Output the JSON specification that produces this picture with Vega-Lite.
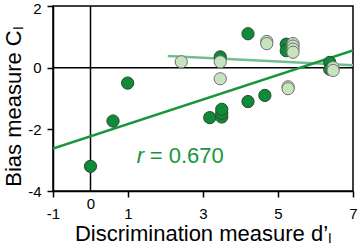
{
  "$schema": "https://vega.github.io/schema/vega-lite/v6.json",
  "width": 300,
  "height": 185,
  "autosize": {"type": "none"},
  "padding": {"left": 53, "top": 6, "right": 5, "bottom": 56},
  "config": {
    "font": "Liberation Sans",
    "view": {"stroke": "black", "strokeWidth": 1.5}
  },
  "encoding": {
    "x": {
      "field": "x", "type": "quantitative",
      "scale": {"domain": [-1, 7], "nice": false, "zero": false},
      "axis": {
        "values": [-1, 0, 1, 3, 5, 7],
        "grid": false,
        "domainColor": "black", "domainWidth": 1.5,
        "tickColor": "black", "tickWidth": 1.5,
        "tickSize": {"condition": {"test": "datum.value == 0", "value": 0}, "value": 6},
        "labelExpr": "datum.value + ''",
        "labelColor": "black", "labelFontSize": 15, "labelFlush": false,
        "labelPadding": {"condition": {"test": "datum.value == 0", "value": 5}, "value": 9},
        "title": "Discrimination measure d’ₗ",
        "titleFontSize": 22, "titleFontWeight": "normal", "titleColor": "black",
        "titleBaseline": "alphabetic", "titleY": 49
      }
    },
    "y": {
      "field": "y", "type": "quantitative",
      "scale": {"domain": [-4, 2], "nice": false, "zero": false},
      "axis": {
        "values": [-4, -2, 0, 2],
        "grid": false,
        "domainColor": "black", "domainWidth": 1.5,
        "tickColor": "black", "tickWidth": 1.5, "tickSize": 6,
        "labelExpr": "datum.value + ''",
        "labelColor": "black", "labelFontSize": 15, "labelFlush": false,
        "labelPadding": 6,
        "labelOffset": {"condition": {"test": "datum.value == 2", "value": 2}, "value": 0},
        "title": "Bias measure Cₗ",
        "titleFontSize": 22, "titleFontWeight": "normal", "titleColor": "black",
        "titleBaseline": "alphabetic", "titleX": -33, "titleY": 100, "titleAlign": "center", "titleAngle": -90
      }
    }
  },
  "layer": [
    {
      "data": {"values": [
        {"s": "h0", "x": -1, "y": 0}, {"s": "h0", "x": 7, "y": 0},
        {"s": "v0", "x": 0, "y": -4}, {"s": "v0", "x": 0, "y": 2}
      ]},
      "mark": {"type": "line", "color": "black", "strokeWidth": 1.5},
      "encoding": {"detail": {"field": "s"}}
    },
    {
      "data": {"values": [
        {"s": "B", "x": 2.06, "y": 0.38}, {"s": "B", "x": 7, "y": 0.08}
      ]},
      "mark": {"type": "line", "color": "#6fbf8c", "strokeWidth": 2.5, "clip": true},
      "encoding": {"detail": {"field": "s"}}
    },
    {
      "data": {"values": [
        {"s": "A", "x": -1, "y": -2.62}, {"s": "A", "x": 7, "y": 0.56}
      ]},
      "mark": {"type": "line", "color": "#16963c", "strokeWidth": 2.5, "clip": true},
      "encoding": {"detail": {"field": "s"}}
    },
    {
      "data": {"values": [
        {"group": "A", "x": 0, "y": -3.2},
        {"group": "A", "x": 0.6, "y": -1.73},
        {"group": "A", "x": 0.99, "y": -0.5},
        {"group": "A", "x": 4.2, "y": 1.1},
        {"group": "A", "x": 3.46, "y": 0.35},
        {"group": "A", "x": 3.18, "y": -1.62},
        {"group": "A", "x": 3.5, "y": -1.6},
        {"group": "A", "x": 3.5, "y": -1.48},
        {"group": "A", "x": 3.5, "y": -1.35},
        {"group": "A", "x": 4.2, "y": -1.1},
        {"group": "A", "x": 4.65, "y": -0.9},
        {"group": "A", "x": 5.22, "y": 0.76},
        {"group": "A", "x": 5.22, "y": 0.55},
        {"group": "A", "x": 6.38, "y": 0.17},
        {"group": "A", "x": 6.38, "y": -0.05},
        {"group": "B", "x": 2.42, "y": 0.19},
        {"group": "B", "x": 3.46, "y": 0.19},
        {"group": "B", "x": 3.46, "y": -0.36},
        {"group": "B", "x": 4.7, "y": 0.85},
        {"group": "B", "x": 4.7, "y": 0.78},
        {"group": "B", "x": 5.4, "y": 0.78},
        {"group": "B", "x": 5.4, "y": 0.7},
        {"group": "B", "x": 5.4, "y": 0.6},
        {"group": "B", "x": 5.4, "y": 0.5},
        {"group": "B", "x": 5.27, "y": -0.62},
        {"group": "B", "x": 5.27, "y": -0.68},
        {"group": "B", "x": 6.47, "y": 0.0},
        {"group": "B", "x": 6.47, "y": -0.09}
      ]},
      "mark": {"type": "circle", "size": 150, "opacity": 1, "strokeWidth": 1},
      "encoding": {
        "color": {"field": "group", "type": "nominal", "legend": null,
          "scale": {"domain": ["A", "B"], "range": ["#0f8a38", "#c8e3bf"]}},
        "stroke": {"field": "group", "type": "nominal", "legend": null,
          "scale": {"domain": ["A", "B"], "range": ["#2a4a30", "#707070"]}}
      }
    },
    {
      "data": {"values": [{"x": 1.23, "y": -3.08, "t": "r"}]},
      "mark": {"type": "text", "align": "left", "baseline": "alphabetic", "fontSize": 22, "fontStyle": "italic", "color": "#16963c"},
      "encoding": {"text": {"field": "t"}}
    },
    {
      "data": {"values": [{"x": 1.58, "y": -3.08, "t": "= 0.670"}]},
      "mark": {"type": "text", "align": "left", "baseline": "alphabetic", "fontSize": 22, "color": "#16963c"},
      "encoding": {"text": {"field": "t"}}
    }
  ]
}
